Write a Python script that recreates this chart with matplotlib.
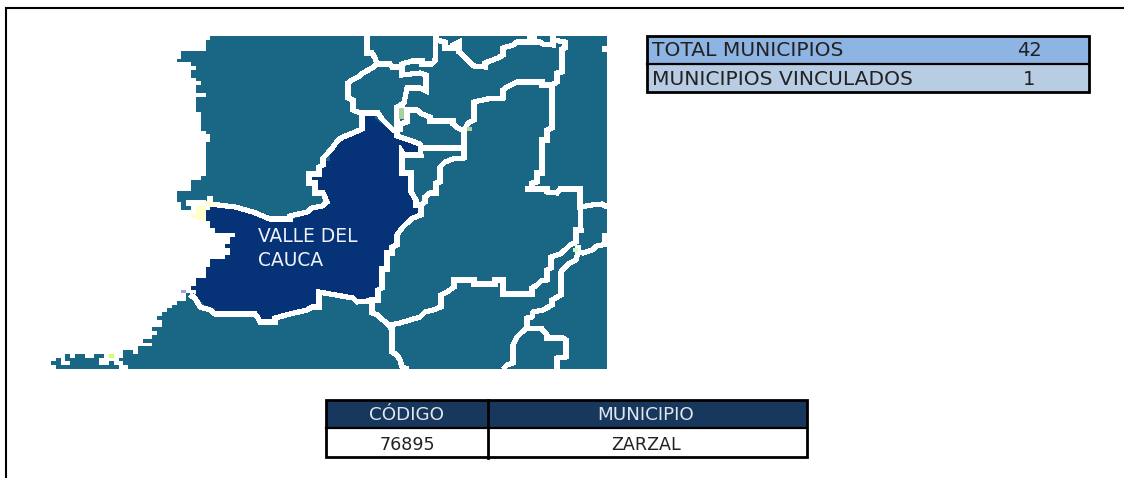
import matplotlib
matplotlib.use("Agg")
import matplotlib.pyplot as plt
from matplotlib.patches import Rectangle

plt.rcParams['font.family'] = ['DejaVu Sans']

# summary table
resumen_labels = ['TOTAL MUNICIPIOS', 'MUNICIPIOS VINCULADOS']
resumen_values = ['42', '1']
# detail table
detalle_header = ['CÓDIGO', 'MUNICIPIO']
detalle_row = ['76895', 'ZARZAL']
map_label = ['VALLE DEL', 'CAUCA']

# map outlines (image pixels)
region = [(215, 36), (210, 36), (210, 40), (206, 40), (206, 51), (181, 51), (181, 59), (177, 59), (177, 62),
          (191, 62), (191, 66), (196, 66), (196, 70), (191, 70), (191, 78), (196, 78), (196, 81), (201, 81),
          (201, 85), (196, 85), (196, 93), (206, 93), (206, 97), (196, 97), (196, 112), (201, 112), (201, 131),
          (206, 131), (206, 134), (210, 134), (210, 142), (206, 142), (206, 176), (201, 176), (201, 180),
          (191, 180), (191, 191), (177, 191), (177, 202), (181, 202), (181, 210), (191, 210), (191, 203),
          (206, 203), (260, 230), (240, 260), (200, 297), (191, 293), (186, 293), (186, 301), (177, 301),
          (177, 305), (172, 305), (172, 308), (167, 308), (167, 312), (162, 312), (162, 316), (157, 316),
          (157, 320), (162, 320), (162, 327), (152, 327), (152, 331), (157, 331), (157, 335), (152, 335),
          (152, 339), (143, 339), (143, 343), (152, 343), (152, 346), (138, 346), (138, 354), (133, 354),
          (133, 350), (123, 350), (123, 358), (119, 358), (119, 361), (123, 361), (123, 365), (128, 365),
          (128, 369), (607, 369), (607, 36)]
islands = [(56, 369), (56, 365), (51, 365), (51, 361), (56, 361), (56, 358), (61, 358), (61, 365), (70, 365),
           (70, 361), (65, 361), (65, 354), (70, 354), (70, 358), (75, 358), (75, 354), (85, 354), (85, 358),
           (94, 358), (94, 354), (104, 354), (104, 358), (99, 358), (99, 365), (109, 365), (109, 361),
           (114, 361), (114, 365), (119, 365), (119, 369)]
valle = [(365, 115), (375, 115), (375, 119), (380, 123), (385, 127), (394, 131), (394, 138), (409, 142),
         (418, 146), (418, 152), (409, 153), (399, 150), (399, 175), (409, 175), (409, 195), (414, 195),
         (418, 206), (418, 214), (414, 214), (409, 218), (404, 225), (399, 233), (394, 245), (389, 252),
         (385, 271), (380, 286), (375, 298), (360, 301), (356, 297), (330, 292), (317, 290), (317, 305),
         (312, 308), (302, 312), (288, 312), (288, 316), (273, 316), (273, 320), (259, 320), (259, 316),
         (253, 312), (215, 312), (215, 308), (206, 305), (201, 301), (196, 297), (196, 290), (191, 290),
         (191, 286), (196, 286), (196, 278), (206, 278), (206, 267), (210, 267), (210, 259), (225, 259),
         (225, 255), (230, 255), (230, 248), (225, 248), (225, 244), (230, 244), (230, 237), (235, 237),
         (235, 233), (215, 233), (215, 228), (210, 228), (210, 221), (206, 221), (206, 210), (210, 210),
         (210, 206), (235, 206), (235, 210), (254, 210), (254, 214), (268, 214), (268, 221), (290, 221),
         (307, 215), (322, 207), (327, 203), (326, 195), (312, 195), (312, 176), (322, 168), (326, 161),
         (330, 161), (330, 152), (336, 146), (346, 138), (356, 134), (365, 130)]

# department borders
borders = [
    [(367, 36), (367, 53), (372, 53), (375, 58), (377, 64), (390, 64), (392, 67), (402, 67), (402, 64), (412, 61),
     (422, 61), (422, 64), (432, 64), (435, 61), (436, 36)],
    [(377, 64), (372, 68), (363, 73), (358, 77), (352, 80), (348, 83), (348, 98), (353, 100), (353, 110), (360, 113),
     (378, 113), (382, 119), (387, 124), (393, 130), (397, 132), (397, 107), (404, 103), (407, 88), (420, 88),
     (426, 91), (426, 75), (420, 73), (402, 75), (402, 67)],
    [(397, 132), (397, 136), (409, 140), (420, 144), (421, 155), (404, 155), (402, 152), (402, 173), (411, 173),
     (411, 192), (416, 200), (416, 205), (421, 205), (421, 215), (413, 218), (407, 223), (402, 228), (397, 235),
     (397, 245), (392, 247), (392, 253), (387, 253), (387, 269), (382, 269), (382, 288), (378, 290), (378, 300),
     (372, 300), (372, 313), (378, 315), (380, 318), (387, 323), (390, 327), (392, 327), (392, 352), (397, 355),
     (400, 360), (402, 367), (408, 369)],
    [(378, 300), (357, 302), (353, 298), (330, 294), (319, 292), (319, 307), (312, 307), (307, 310), (290, 314),
     (275, 318), (275, 322), (260, 322), (258, 318), (255, 314), (215, 314), (210, 310), (200, 307), (195, 298),
     (190, 295)],
    [(210, 204), (235, 207), (253, 212), (270, 219), (290, 219), (290, 216), (307, 212), (312, 208), (322, 206),
     (327, 202), (323, 193), (315, 193), (315, 183), (309, 183), (309, 174), (319, 174), (319, 167), (323, 165),
     (323, 158), (328, 153), (333, 147), (338, 140), (343, 137), (353, 133), (362, 129), (362, 113)],
    [(186, 203), (205, 203), (210, 204), (210, 196)],
    [(436, 40), (445, 42), (445, 48), (453, 48), (453, 45), (459, 42), (459, 52), (464, 56), (469, 62), (474, 66),
     (485, 67), (485, 63), (498, 58), (503, 55), (503, 48), (513, 45), (517, 42), (540, 42), (543, 44), (553, 45),
     (553, 36)],
    [(553, 40), (565, 42), (565, 48), (562, 49), (562, 72), (557, 73), (557, 82), (552, 85), (542, 85), (542, 82),
     (517, 82), (507, 87), (503, 90), (503, 98), (487, 99), (474, 102), (474, 120), (468, 123), (464, 132),
     (464, 158), (453, 159), (445, 162), (440, 167), (440, 182), (436, 183), (436, 193), (430, 193), (425, 197),
     (425, 202), (421, 205)],
    [(397, 107), (407, 110), (417, 110), (422, 114), (430, 117), (430, 121), (453, 121), (453, 124), (458, 128),
     (464, 131)],
    [(407, 110), (407, 122), (400, 124), (400, 132)],
    [(420, 148), (464, 148)],
    [(552, 85), (552, 128), (547, 130), (547, 140), (542, 140), (542, 173), (537, 173), (537, 182), (532, 183),
     (532, 189)],
    [(525, 189), (547, 189), (547, 192), (557, 193), (560, 189), (580, 189), (580, 208), (581, 230), (576, 230),
     (576, 242), (570, 245), (565, 250), (560, 254), (551, 257), (551, 268), (547, 270), (547, 280), (541, 281),
     (537, 285), (532, 288), (532, 294), (503, 294), (503, 280), (495, 280), (495, 284), (474, 284), (474, 280),
     (454, 280), (454, 287), (447, 292), (441, 295), (441, 307), (433, 310), (425, 312), (420, 317), (410, 320),
     (400, 323), (390, 325)],
    [(580, 207), (592, 205), (602, 204), (607, 207)],
    [(578, 245), (578, 252), (583, 253), (592, 250), (597, 246), (607, 244)],
    [(578, 252), (576, 260), (570, 263), (565, 267), (561, 272), (561, 295), (552, 300), (552, 305), (543, 310),
     (533, 312), (532, 317), (527, 318), (527, 328), (522, 332), (517, 337), (513, 345), (513, 363), (507, 365),
     (503, 369)],
    [(527, 328), (542, 329), (547, 335), (547, 338), (563, 338), (566, 340), (566, 357), (557, 358), (557, 369)],
    [(527, 36), (534, 36), (534, 40), (527, 40)],
    [(602, 49), (607, 49)],
    [(605, 233), (605, 243)],
]

# tiny patches on the map: x0, y0, x1, y1, colour
spots = [(399, 108, 404, 119, '#A8D0A0'), (467, 127, 472, 131, '#A8D0A0'), (573, 248, 578, 252, '#CCFFCC'),
         (109, 354, 114, 358, '#D4FF66'), (181, 290, 186, 293, '#A29BF0'), (196, 206, 206, 220, '#FFFFCC'),
         (191, 214, 196, 218, '#FFFFCC'), (206, 202, 215, 206, '#FFFFCC')]


def box(ax, x0, y0, x1, y1, color, lw=0, edge='none', z=3):
    ax.add_patch(Rectangle((x0, y0), x1 - x0, y1 - y0, facecolor=color, edgecolor=edge, linewidth=lw, zorder=z))


fig = plt.figure(figsize=(11.24, 4.78), dpi=100)
ax = fig.add_axes([0, 0, 1, 1])
ax.set_xlim(0, 1124)
ax.set_ylim(478, 0)
ax.axis('off')

# outer frame
ax.plot([6, 6, 1124], [478, 8, 8], color='black', lw=1.5, solid_joinstyle='miter', zorder=1)

# map
ax.fill(*zip(*region), color='#1A6785', lw=0, antialiased=False, zorder=2)
ax.fill(*zip(*islands), color='#1A6785', lw=0, antialiased=False, zorder=2)
ax.fill(*zip(*valle), color='#063277', lw=0, antialiased=False, zorder=3)
for line in borders:
    ax.plot(*zip(*line), color='white', lw=3.0, antialiased=False, solid_joinstyle='miter', solid_capstyle='butt', zorder=4)
for x0, y0, x1, y1, c in spots:
    box(ax, x0, y0, x1, y1, c, z=5)
ax.text(258, 236, map_label[0], color='#F0F3F8', fontsize=13.4, va='center', ha='left', zorder=6)
ax.text(258, 260, map_label[1], color='#F0F3F8', fontsize=13.4, va='center', ha='left', zorder=6)

# summary table
box(ax, 647, 36, 1089, 64, '#8EB4E3')
box(ax, 647, 64, 1089, 92, '#B8CCE4')
ax.plot([647, 1089], [64, 64], color='black', lw=1.6, zorder=4)
box(ax, 647, 36, 1089, 92, 'none', lw=2.0, edge='black', z=5)
for i, (lab, val) in enumerate(zip(resumen_labels, resumen_values)):
    y = 50.5 + 28.5 * i
    ax.text(652, y, lab, color='#222222', fontsize=14.6, va='center', ha='left', zorder=6)
    ax.text(1029, y, val, color='#222222', fontsize=14, va='center', ha='center', zorder=6)

# detail table
box(ax, 326, 400, 807, 428, '#17375D')
ax.plot([326, 807], [428, 428], color='black', lw=1.6, zorder=4)
ax.plot([487.5, 487.5], [400, 458], color='black', lw=2.0, zorder=5)
box(ax, 326, 400, 807, 456.5, 'none', lw=2.0, edge='black', z=5)
centers = [407, 646]
for cx, head, cell in zip(centers, detalle_header, detalle_row):
    ax.text(cx, 415.5, head, color='#E0E6EE', fontsize=13.2, va='center', ha='center', zorder=6)
    ax.text(cx, 444.5, cell, color='#222222', fontsize=12.6, va='center', ha='center', zorder=6)

fig.savefig('out.png', dpi=100)
